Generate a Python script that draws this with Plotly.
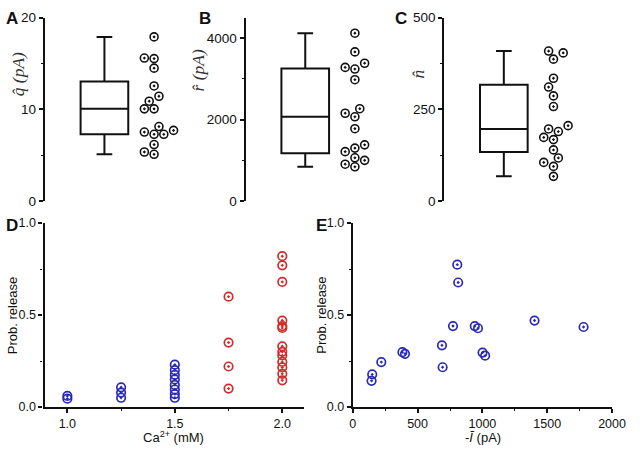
import plotly.graph_objects as go
import math

# ---------------- data ----------------
q_hat = [17.9, 15.54, 15.6, 14.5, 12.56, 11.44, 10.9, 10.07, 10.07, 8.14,
         7.3, 7.3, 7.54, 7.72, 6.18, 5.12, 5.37]
r_hat = [4119, 3660, 3383, 3281, 3241, 2980, 2158, 2269, 2071, 1779,
         1304, 1383, 1067, 1217, 909, 846, 1004]
n_hat = [404, 409, 387, 335, 311, 287, 258, 197, 206, 190,
         174, 168, 140, 118, 106, 95, 68]

ca_blue = [1.0, 1.0, 1.25, 1.25, 1.25, 1.5, 1.5, 1.5, 1.5, 1.5, 1.5, 1.5, 1.5]
pr_blue = [0.045, 0.06, 0.05, 0.078, 0.107, 0.05, 0.07, 0.095, 0.12, 0.15, 0.175, 0.20, 0.23]
ca_red = [1.75, 1.75, 1.75, 1.75] + [2.0] * 13
pr_red = [0.10, 0.22, 0.35, 0.60,
          0.145, 0.18, 0.215, 0.245, 0.28, 0.30, 0.33, 0.43, 0.44, 0.47, 0.68, 0.77, 0.82]

i_mean = [150, 145, 220, 383, 403, 688, 693, 773, 806, 813, 941, 966, 1001, 1021, 1402, 1780]
pr_e = [0.177, 0.142, 0.244, 0.298, 0.289, 0.335, 0.216, 0.440, 0.774, 0.677,
        0.440, 0.428, 0.296, 0.279, 0.470, 0.435]

# ---------------- geometry ----------------
W, H = 640, 452
INK = "#111111"
BLUE = "#2a2ab8"
RED = "#d42a2a"
FONT = "Liberation Sans, Arial, sans-serif"

top_y = [(H - 201) / H, (H - 11) / H]
bot_y = [(H - 413.7) / H, (H - 223.5) / H]
XR_TOP = [-1.2, 1.8]          # box at 0, points at 1
top_x_left = [43, 249.3, 453.3]
TOP_W = 153


def swarm(values, yrange, slot_px=5.0, diam_px=9.3):
    """simple beeswarm: returns x offsets in data units, balancing both sides"""
    ppu_y = (top_y[1] - top_y[0]) * H / (yrange[1] - yrange[0])
    ppu_x = TOP_W / (XR_TOP[1] - XR_TOP[0])
    order = sorted(range(len(values)), key=lambda i: values[i])
    placed = []
    offs = [0.0] * len(values)
    load = {-1: 0, 1: 0}
    for i in order:
        ypx = values[i] * ppu_y
        ok = lambda xpx: all(math.hypot(xpx - px, ypx - py) >= diam_px for px, py in placed)
        if ok(0):
            xpx = 0.0
        else:
            xpx = None
            for k in range(1, 15):
                sides = [s for s in (-1, 1) if ok(s * k * slot_px)]
                if sides:
                    s = min(sides, key=lambda t: load[t])
                    load[s] += 1
                    xpx = s * k * slot_px
                    break
        placed.append((xpx, ypx))
        offs[i] = xpx / ppu_x
    return offs


fig = go.Figure()
top_sets = [(q_hat, [0, 20], 10, 5), (r_hat, [0, 4500], 2000, 1000), (n_hat, [0, 500], 250, 125)]

for k, (vals, yr, dt, mdt) in enumerate(top_sets):
    idx = "" if k == 0 else str(k + 1)
    xa, ya = "x" + idx, "y" + idx
    fig.add_trace(go.Box(y=vals, x0=0, boxpoints=False, width=0.96, whiskerwidth=0.33,
                         line=dict(color=INK, width=2), fillcolor="rgba(0,0,0,0)",
                         xaxis=xa, yaxis=ya, showlegend=False))
    offs = swarm(vals, yr)
    fig.add_trace(go.Scatter(x=[1 + o for o in offs], y=vals, mode="markers",
                             marker=dict(symbol="circle-open-dot", size=8, color=INK,
                                         line=dict(width=1.6, color=INK)),
                             xaxis=xa, yaxis=ya, showlegend=False))
    x0 = top_x_left[k]
    fig.layout["xaxis" + idx] = dict(domain=[x0 / W, (x0 + TOP_W) / W], range=XR_TOP,
                                     visible=False, anchor=ya)
    fig.layout["yaxis" + idx] = dict(domain=top_y, range=yr, anchor=xa, dtick=dt, tick0=0,
                                     showline=True, linecolor=INK, linewidth=2.2,
                                     ticks="outside", ticklen=4, tickwidth=1.5, tickcolor=INK,
                                     minor=dict(dtick=mdt, ticks="outside", ticklen=2,
                                                tickwidth=1.2, tickcolor=INK),
                                     showgrid=False, zeroline=False,
                                     tickfont=dict(family=FONT, size=13.5, color=INK))

mk = lambda c: dict(symbol="circle-open-dot", size=8.5, color=c, line=dict(width=1.7, color=c))

# D
fig.add_trace(go.Scatter(x=ca_blue, y=pr_blue, mode="markers", marker=mk(BLUE),
                         xaxis="x4", yaxis="y4", showlegend=False))
fig.add_trace(go.Scatter(x=ca_red, y=pr_red, mode="markers", marker=mk(RED),
                         xaxis="x4", yaxis="y4", showlegend=False))
# E
fig.add_trace(go.Scatter(x=i_mean, y=pr_e, mode="markers", marker=mk(BLUE),
                         xaxis="x5", yaxis="y5", showlegend=False))

ax_common = dict(showline=True, linecolor=INK, linewidth=2.2, ticks="outside", ticklen=4,
                 tickwidth=1.5, tickcolor=INK, showgrid=False, zeroline=False,
                 tickfont=dict(family=FONT, size=12.5, color=INK))

fig.update_layout(
    xaxis4=dict(domain=[42.7 / W, 309 / W], range=[0.894, 2.1], anchor="y4",
                tickvals=[1.0, 1.5, 2.0], ticktext=["1.0", "1.5", "2.0"],
                minor=dict(tickvals=[1.25, 1.75], ticks="outside", ticklen=2, tickwidth=1.2,
                           tickcolor=INK), **ax_common),
    yaxis4=dict(domain=bot_y, range=[0, 1], anchor="x4", tickvals=[0, 0.5, 1.0],
                ticktext=["0.0", "0.5", "1.0"],
                minor=dict(tickvals=[0.25, 0.75], ticks="outside", ticklen=2, tickwidth=1.2,
                           tickcolor=INK), **ax_common),
    xaxis5=dict(domain=[359.3 / W, 625.7 / W], range=[0, 2000], anchor="y5", dtick=500, tick0=0,
                minor=dict(dtick=250, ticks="outside", ticklen=2, tickwidth=1.2, tickcolor=INK),
                **ax_common),
    yaxis5=dict(domain=bot_y, range=[0, 1], anchor="x5", tickvals=[0, 0.5, 1.0],
                ticktext=["0.0", "0.5", "1.0"],
                minor=dict(tickvals=[0.25, 0.75], ticks="outside", ticklen=2, tickwidth=1.2,
                           tickcolor=INK), **ax_common),
)


def ann(text, x, y, size, angle=0, bold=False, family=FONT, color=INK):
    fig.add_annotation(text=("<b>%s</b>" % text) if bold else text, x=x / W, y=1 - y / H,
                       xref="paper", yref="paper", showarrow=False, textangle=angle,
                       xanchor="center", yanchor="middle",
                       font=dict(family=family, size=size, color=color))


SERIF = "Liberation Serif, Times New Roman, serif"
for letter, x, y in [("A", 9, 12), ("B", 207, 12), ("C", 409, 12), ("D", 9, 226), ("E", 327, 226)]:
    ann(letter, x, y, 17, bold=True)

ann("<i>q\u0302 (pA)</i>", 15, 70, 17.5, angle=-90, family=SERIF, color="#333")
ann("<i>r\u0302 (pA)</i>", 200, 66, 17.5, angle=-90, family=SERIF, color="#333")
ann("<i>n\u0302</i>", 426, 69, 17.5, angle=-90, family=SERIF, color="#333")
ann("Prob. release", 10, 319, 13, angle=-90)
ann("Prob. release", 327, 319, 13, angle=-90)
ann("Ca<sup>2+</sup> (mM)", 175, 445, 13)
ann("-<i>\u012a</i> (pA)", 493, 445, 13)

fig.update_layout(width=W, height=H, margin=dict(l=0, r=0, t=0, b=0),
                  paper_bgcolor="white", plot_bgcolor="white")
fig.write_html("out.html", config={"displayModeBar": False},
               post_script="document.body.style.margin='0';document.body.style.overflow='hidden';")
